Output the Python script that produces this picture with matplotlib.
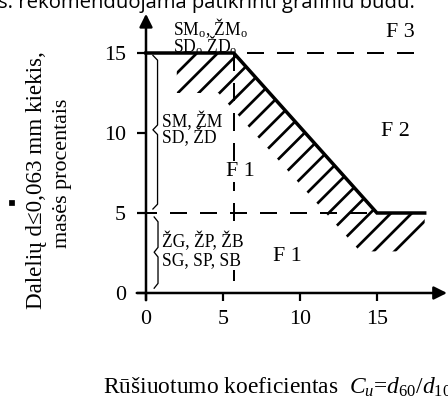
import matplotlib
matplotlib.use('Agg')
import matplotlib.pyplot as plt
from matplotlib.lines import Line2D

DPI = 125


def px(v):
    # pixel size -> points at this dpi
    return v * 72.0 / DPI


x_ticks = [0, 5, 10, 15]
y_ticks = [0, 5, 10, 15]

# heavy boundary line
bound_x = [0, 5.7, 15.0, 18.1]
bound_y = [15, 15, 5, 5]

# hatched band under the boundary
hatch_x = [2.85, 5.7, 15.0, 18.1, 18.1, 16.9, 13.9, 4.7, 2.0, 2.0]
hatch_y = [15, 15, 5, 5, 3.7, 2.6, 2.6, 12.5, 12.5, 14.0]

# dashed limits
f3_x = [5.7, 18.1]
f3_y = [15, 15]
f1_x = [0, 15.0]
f1_y = [5, 5]
cu_x = [5.7, 5.7]
cu_y = [15, 0]

zone_labels = ['F 3', 'F 2', 'F 1', 'F 1']
zone_x = [16.5, 16.2, 6.1, 9.15]
zone_y = [16.3, 10.1, 7.6, 2.3]

soil_labels = ['SM, ŽM', 'SD, ŽD', 'ŽG, ŽP, ŽB', 'SG, SP, SB']
soil_y = [10.75, 9.75, 3.2, 2.05]
soil_box = [False, False, True, True]

top_labels = [r'SM$_\mathrm{o}$, ŽM$_\mathrm{o}$', r'SD$_\mathrm{o}$ ŽD$_\mathrm{o}$']
top_y = [16.55, 15.5]

plt.rcParams['font.family'] = ['Liberation Serif', 'DejaVu Serif']
plt.rcParams['mathtext.fontset'] = 'custom'
plt.rcParams['mathtext.rm'] = 'Liberation Serif'
plt.rcParams['mathtext.it'] = 'Liberation Serif:italic'
plt.rcParams['hatch.linewidth'] = px(2.7)

fig = plt.figure(figsize=(448 / DPI, 396 / DPI), dpi=DPI)
ax = fig.add_axes([0.2984, 0.2278, 0.7011, 0.7434])
ax.set_xlim(-0.8, 19.6)
ax.set_ylim(-0.8, 17.6)

for s in ax.spines.values():
    s.set_visible(False)
ax.spines['left'].set_position(('data', 0))
ax.spines['bottom'].set_position(('data', 0))

ax.set_xticks(x_ticks)
ax.set_yticks(y_ticks)
ax.tick_params(axis='y', direction='out', length=px(9), width=px(2.2),
               pad=px(11), labelsize=px(22))
ax.tick_params(axis='x', direction='out', length=px(8), width=px(2.2),
               pad=px(9), labelsize=px(22))

# axes with arrows
arr = dict(arrowstyle='-|>', lw=px(2.5), color='k', mutation_scale=px(27),
           shrinkA=0, shrinkB=0)
ax.annotate('', xy=(0, 17.45), xytext=(0, -0.45), arrowprops=arr)
ax.annotate('', xy=(19.55, 0), xytext=(-0.6, 0), arrowprops=arr)

ax.fill(hatch_x, hatch_y, facecolor='none', edgecolor='k', lw=0, hatch='//')
ax.plot(bound_x, bound_y, color='k', lw=px(3.5), solid_joinstyle='miter')

ax.plot(f3_x, f3_y, color='k', lw=px(2), linestyle=(8.5, (8.5, 6.5)))
ax.plot(f1_x, f1_y, color='k', lw=px(2), linestyle=(3, (8.5, 6.5)))
ax.plot(cu_x, cu_y, color='k', lw=px(2), linestyle=(0, (9, 6)))

white = dict(facecolor='white', edgecolor='none', pad=0.5)
for t, x, y in zip(zone_labels, zone_x, zone_y):
    ax.text(x, y, t, ha='center', va='center', fontsize=px(22), bbox=white)
for t, y, b in zip(soil_labels, soil_y, soil_box):
    ax.text(1.04, y, t, ha='left', va='center', fontsize=px(17.5),
            bbox=white if b else None)
for t, y in zip(top_labels, top_y):
    ax.text(1.75, y, t, ha='left', va='center', fontsize=px(17.5))


def brace(x, y0, y1, ym, w):
    xs = [x - w, x, x, x - w, x, x, x - w]
    ys = [y0, y0 - 0.3, ym + 0.3, ym, ym - 0.3, y1 + 0.3, y1]
    ax.plot(xs, ys, color='k', lw=px(1.3))


brace(0.75, 14.85, 5.25, 10.2, 0.3)
brace(0.78, 4.75, 0.3, 2.55, 0.25)

fig.text(37 / 448, 1 - 180 / 396, 'Dalelių d≤0,063 mm kiekis,', rotation=90,
         ha='center', va='center', fontsize=px(23))
fig.text(63 / 448, 1 - 173 / 396, 'masės procentais', rotation=90,
         ha='center', va='center', fontsize=px(22))
fig.add_artist(Line2D([12 / 448], [1 - 203 / 396], transform=fig.transFigure,
                      marker='s', ms=px(3.5), color='k', lw=0))
fig.text(103 / 448, 1 - 387 / 396,
         r'Rūšiuotumo koeficientas  $C_u$=$d_{\mathit{60}}/d_{\mathit{10}}$',
         ha='left', va='center', fontsize=px(23.5))
fig.text(-2 / 448, 1 - 8 / 396, 's. rekomenduojama patikrinti grafiniu būdu.',
         family='Open Sans', ha='left', va='baseline', fontsize=px(20.3))

fig.savefig('out.png', dpi=DPI)
